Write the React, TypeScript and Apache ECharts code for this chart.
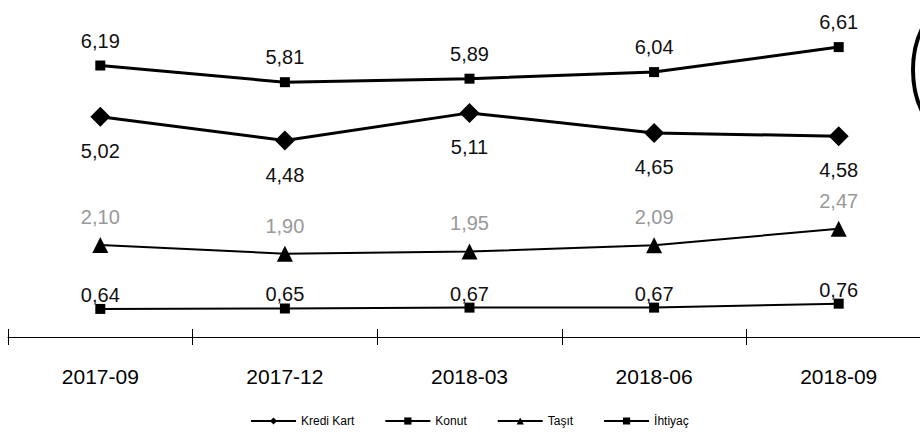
import React, { useEffect, useRef } from "react";
import * as echarts from "echarts";

const categories = ["2017-09", "2017-12", "2018-03", "2018-06", "2018-09"];
const krediKart = [5.02, 4.48, 5.11, 4.65, 4.58];
const konut = [0.64, 0.65, 0.67, 0.67, 0.76];
const tasit = [2.1, 1.9, 1.95, 2.09, 2.47];
const ihtiyac = [6.19, 5.81, 5.89, 6.04, 6.61];
const seriesNames = ["Kredi Kart", "Konut", "Taşıt", "İhtiyaç"];

const fmt = (p: any) => Number(p.value).toFixed(2).replace(".", ",");
const FONT = "'Liberation Sans', Arial, sans-serif";

export default function App() {
  const ref = useRef<HTMLDivElement>(null);
  useEffect(() => {
    if (!ref.current) return;
    const chart = echarts.init(ref.current, undefined, { renderer: "svg" });
    const mk = (
      name: string,
      data: number[],
      symbol: string,
      symbolSize: number,
      width: number,
      pos: string,
      dist: number,
      color: string
    ) => ({
      name,
      type: "line",
      data,
      symbol,
      symbolSize,
      showAllSymbol: true,
      lineStyle: { color: "#000", width },
      itemStyle: { color: "#000" },
      label: {
        show: true,
        position: pos,
        distance: dist,
        formatter: fmt,
        color,
        fontSize: 20,
        fontFamily: FONT,
      },
    });
    chart.setOption({
      animation: false,
      backgroundColor: "#fff",
      grid: { left: 8, top: 30, right: 0, height: 307 },
      legend: {
        data: seriesNames,
        left: 245,
        top: 410,
        itemWidth: 45,
        itemHeight: 9,
        itemGap: 30,
        textStyle: { fontSize: 12, color: "#000", fontFamily: FONT },
      },
      xAxis: [
        {
          type: "category",
          data: categories,
          position: "bottom",
          boundaryGap: true,
          axisLine: { lineStyle: { color: "#000", width: 1 } },
          axisTick: { show: true, length: 8, lineStyle: { color: "#000" } },
          axisLabel: { color: "#000", fontSize: 21, margin: 29, fontFamily: FONT },
        },
        {
          type: "category",
          data: categories,
          position: "bottom",
          boundaryGap: true,
          axisLine: { show: false },
          axisTick: { show: true, inside: true, length: 8, lineStyle: { color: "#000" } },
          axisLabel: { show: false },
        },
      ],
      yAxis: { type: "value", min: 0, max: 7, show: false, splitLine: { show: false } },
      graphic: [
        {
          type: "ellipse",
          shape: { cx: 963, cy: 70, rx: 50, ry: 72 },
          style: { fill: "none", stroke: "#000", lineWidth: 4 },
          silent: true,
        },
      ],
      series: [
        mk("Kredi Kart", krediKart, "diamond", 20, 3, "bottom", 14, "#111"),
        mk("Konut", konut, "rect", 10, 2, "top", -1, "#111"),
        mk("Taşıt", tasit, "triangle", 16, 2, "top", 10, "#999"),
        mk("İhtiyaç", ihtiyac, "rect", 10, 3, "top", 10, "#111"),
      ],
    });
    return () => chart.dispose();
  }, []);
  return (
    <div
      style={{
        position: "absolute",
        left: 0,
        top: 0,
        width: 920,
        height: 438,
        overflow: "hidden",
      }}
    >
      <div ref={ref} style={{ width: 931, height: 438 }} />
    </div>
  );
}
